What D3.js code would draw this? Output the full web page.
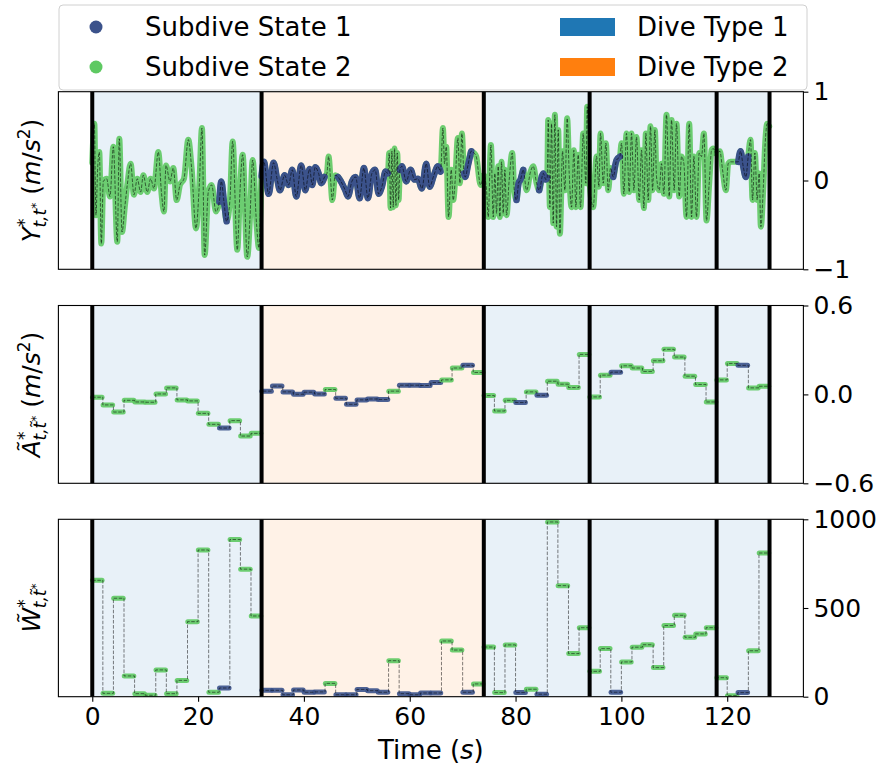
<!DOCTYPE html>
<html>
<head>
<meta charset="utf-8">
<script src="https://cdn.jsdelivr.net/npm/d3@7"></script>
<style>
  body { margin: 0; background: #fff; }
  text { font-family: "DejaVu Sans", sans-serif; }
</style>
</head>
<body>
<div id="chart"></div>
<script>
// dive boundaries (s) and dive type of each dive
var diveBounds = [0, 32, 74, 94, 118, 128];
var diveTypes = [1, 2, 1, 1, 1];

// subdive windows (start time, s) and their hidden state
var subStart = [0, 2, 4, 6, 8, 10, 12, 14, 16, 18, 20, 22, 24, 26, 28, 30,
  32, 34, 36, 38, 40, 42, 44, 46, 48, 50, 52, 54, 56, 58, 60, 62, 64, 66, 68, 70, 72,
  74, 76, 78, 80, 82, 84, 86, 88, 90, 92,
  94, 96, 98, 100, 102, 104, 106, 108, 110, 112, 114, 116,
  118, 120, 122, 124, 126];
var subState = [2, 2, 2, 2, 2, 2, 2, 2, 2, 2, 2, 2, 1, 2, 2, 2,
  1, 1, 1, 1, 1, 1, 2, 1, 1, 1, 1, 1, 2, 1, 1, 1, 1, 2, 2, 1, 2,
  2, 2, 2, 1, 2, 1, 2, 2, 2, 2,
  2, 2, 1, 2, 2, 2, 2, 2, 2, 2, 2, 2,
  2, 2, 1, 2, 2];

// mean acceleration per subdive
var accelMean = [-0.019, -0.071, -0.119, -0.040, -0.051, -0.053, 0.003, 0.044, -0.037, -0.044, -0.128, -0.202, -0.227, -0.177, -0.281, -0.263,
  0.022, 0.056, 0.017, 0.001, 0.015, 0.003, 0.033, -0.026, -0.067, -0.037, -0.031, -0.035, 0.022, 0.062, 0.062, 0.060, 0.080, 0.098, 0.178, 0.196, 0.148,
  -0.008, -0.112, -0.040, -0.055, 0.017, -0.006, 0.089, 0.069, 0.046, 0.270,
  -0.017, 0.130, 0.150, 0.193, 0.178, 0.155, 0.227, 0.304, 0.252, 0.123, 0.067, -0.051,
  0.098, 0.209, 0.196, 0.044, 0.055];

// wiggliness per subdive
var wiggle = [656, 19, 555, 117, 17, 8, 151, 17, 92, 423, 827, 25, 49, 886, 719, 455,
  36, 36, 11, 38, 25, 27, 75, 11, 11, 41, 34, 25, 203, 17, 11, 21, 21, 314, 263, 25, 72,
  280, 23, 292, 23, 42, 14, 985, 626, 243, 389,
  143, 271, 25, 196, 279, 293, 164, 401, 459, 335, 354, 389,
  107, 6, 23, 259, 810];

// acceleration signal (read at its turning points)
var sigTime = [0, 0.39, 0.70, 1.02, 1.33, 1.71, 2.09, 2.72, 3.35, 3.98, 4.73, 5.11, 5.62, 6.18, 6.62, 7.25, 7.88, 8.51, 9.14, 9.65,
  10.40, 11.03, 11.66, 12.48, 13.11, 13.55, 13.93, 14.69, 15.32, 15.95, 16.58, 17.33, 18.15, 18.78, 19.60, 20.23, 20.73, 21.24, 21.93, 22.56,
  23.38, 24.01, 24.39, 24.89, 25.39, 26.02, 26.53, 27.41, 27.91, 28.42, 29.30, 29.80, 30.31, 31.06, 31.50,
  32.0, 32.44, 33.33, 34.27, 34.96, 35.47, 36.35, 37.10, 37.80, 38.55, 39.50, 40.25, 41.07, 41.58, 42.14, 42.77, 43.28, 43.91, 44.35, 44.66,
  45.04, 45.36, 45.92, 46.43, 47.18, 47.81, 48.32, 49.07, 49.77, 50.52, 51.34, 52.10, 52.85, 53.48, 54.11, 54.74, 55.43, 55.87, 56.13, 56.38,
  56.63, 56.88, 57.13, 57.39, 57.64, 57.89, 58.14, 58.52, 59.34, 60.16, 60.91, 61.54, 62.30, 63.12, 63.75, 64.57, 65.32, 65.83, 66.27, 66.58,
  66.90, 67.34, 67.84, 68.22, 68.60, 69.10, 69.48, 69.86, 70.24, 70.49, 71.00, 71.62, 72.13, 72.57, 73.39, 73.90,
  74.0, 74.52, 74.83, 75.34, 75.78, 76.09, 76.41, 76.72, 77.04, 77.35, 77.67, 77.98, 78.30, 78.80, 79.37, 79.75, 80.19, 80.57, 80.94, 81.45,
  82.08, 82.83, 83.34, 83.97, 84.47, 85.23, 85.73, 85.98, 86.17, 86.49, 86.80, 87.12, 87.43, 87.75, 88.06, 88.38, 88.88, 89.32, 89.76, 90.14, 90.58,
  91.02, 91.40, 91.84, 92.28, 92.79, 93.29, 93.54, 93.95,
  94.68, 95.31, 95.75, 96.06, 96.57, 97.07, 97.51, 97.95, 98.46, 99.09, 99.72, 100.03, 100.47, 100.97, 101.48, 101.92, 102.36, 102.86, 103.37, 103.81,
  104.25, 104.63, 105.07, 105.51, 105.89, 106.33, 106.64, 107.15, 107.59, 108.03, 108.53, 109.04, 109.48, 109.98, 110.42, 110.93, 111.37, 111.81, 112.31, 112.82,
  113.26, 113.70, 114.20, 114.71, 115.15, 115.59, 116.09, 116.60, 117.04, 117.35, 117.95,
  118.61, 119.12, 119.75, 120.19, 120.63, 121.45, 122.08, 122.52, 123.02, 123.53, 123.97, 124.41, 124.79, 125.23, 125.67, 126.04, 126.36, 126.80, 127.18, 127.56,
  127.93];
var sigY = [0.20, 0.64, -0.39, 0.14, 0.32, -0.71, -0.01, 0.02, -0.18, 0.38, -0.69, 0.47, -0.58, -0.28, -0.05, 0.19, -0.16, 0.02, -0.13, 0.06,
  -0.13, 0.02, -0.09, 0.32, -0.16, -0.35, 0.17, -0.01, 0.14, -0.22, -0.05, 0.02, 0.46, 0.14, -0.54, -0.05, 0.59, -0.84, -0.13, -0.05,
  -0.35, -0.24, -0.01, -0.24, -0.46, -0.22, 0.44, -0.78, -0.13, 0.29, -0.86, -0.43, 0.23, -0.50, -0.76,
  0.05, 0.21, -0.15, 0.20, 0.01, -0.11, 0.06, -0.05, 0.12, -0.18, 0.17, -0.11, 0.13, -0.05, 0.15, 0.08, -0.03, 0.04, 0.08, 0.27,
  0.01, -0.22, 0.06, 0.04, -0.03, -0.11, -0.18, -0.01, 0.04, -0.20, 0.14, -0.20, 0.08, 0.12, -0.15, -0.07, 0.10, 0.08, 0.31, -0.31,
  0.33, -0.30, 0.36, -0.28, 0.31, -0.22, 0.12, 0.16, -0.01, 0.12, 0.01, 0.02, -0.09, 0.19, -0.07, 0.06, 0.16, 0.10, 0.59, 0.19,
  0.38, -0.41, 0.12, -0.22, 0.01, 0.48, -0.03, 0.53, 0.08, 0.04, 0.17, 0.33, 0.31, 0.27, -0.05, 0.04,
  0.06, -0.11, -0.41, 0.40, -0.41, 0.08, -0.37, 0.16, -0.41, 0.21, -0.37, 0.12, -0.39, 0.01, 0.31, -0.11, -0.22, -0.03, 0.01, 0.12,
  -0.11, 0.10, 0.16, -0.03, -0.11, 0.08, 0.01, 0.03, 0.68, -0.30, 0.64, -0.48, 0.74, -0.52, 0.57, -0.60, 0.33, -0.11, 0.70, 0.08, -0.30,
  0.34, -0.30, 0.29, -0.30, 0.53, -0.03, 0.83, 0.01,
  -0.30, 0.27, -0.07, 0.53, -0.03, 0.42, -0.11, 0.14, 0.04, 0.23, 0.27, 0.42, -0.15, 0.53, -0.13, 0.53, -0.11, 0.49, -0.22, 0.34,
  -0.31, 0.53, -0.22, 0.61, -0.11, 0.57, 0.04, -0.11, 0.19, -0.15, 0.74, -0.18, 0.68, -0.11, 0.64, -0.18, 0.27, 0.19, -0.41, 0.64,
  -0.41, 0.27, -0.41, 0.31, 0.27, 0.53, -0.45, -0.03, 0.34, 0.36, 0.30,
  0.33, 0.12, -0.11, 0.19, 0.21, 0.21, 0.21, 0.33, 0.16, 0.04, 0.27, 0.46, -0.22, 0.31, -0.22, 0.08, -0.52, -0.11, 0.42, 0.64,
  0.61];

// tick labels
var xTicks = [0, 20, 40, 60, 80, 100, 120];
var yTicksY = [-1, 0, 1];
var yTicksA = [-0.6, 0.0, 0.6];
var yTicksW = [0, 500, 1000];

var width = 879, height = 775;
var left = 58.4, right = 803.4;
var stateColor = {1: "#3b528b", 2: "#5ec962"};
var typeFill = {1: "#e8f1f8", 2: "#fff2e7"};
var fs = 25;

var svg = d3.select("#chart")
  .append("svg")
  .attr("width", width)
  .attr("height", height);

var x = d3.scaleLinear().domain([-6.4, 134.4]).range([left, right]);

var panels = [
  {top: 91.7, bottom: 269.3, domain: [-1, 1], ticks: yTicksY, fmt: d3.format("d")},
  {top: 305.5, bottom: 483.3, domain: [-0.6, 0.6], ticks: yTicksA, fmt: d3.format(".1f")},
  {top: 519.3, bottom: 696.7, domain: [0, 1000], ticks: yTicksW, fmt: d3.format("d")}
];

var dives = diveTypes.map(function(t, i) {
  return {start: diveBounds[i], end: diveBounds[i + 1], type: t};
});
var subs = subStart.map(function(s, i) {
  var e = i + 1 < subStart.length ? subStart[i + 1] : diveBounds[diveBounds.length - 1];
  return {start: s, end: e, state: subState[i], a: accelMean[i], w: wiggle[i]};
});
var signal = sigTime.map(function(t, i) { return [t, sigY[i]]; });

// consecutive state-1 windows merged into runs
var blueRuns = [];
subs.forEach(function(d) {
  if (d.state !== 1) return;
  var last = blueRuns[blueRuns.length - 1];
  if (last && last.end === d.start) last.end = d.end;
  else blueRuns.push({start: d.start, end: d.end});
});

var defs = svg.append("defs");

panels.forEach(function(p, pi) {
  var y = d3.scaleLinear().domain(p.domain).range([p.bottom, p.top]);
  p.y = y;

  defs.append("clipPath").attr("id", "clip-" + pi)
    .append("rect")
    .attr("x", left).attr("y", p.top)
    .attr("width", right - left).attr("height", p.bottom - p.top);

  var g = svg.append("g").attr("clip-path", "url(#clip-" + pi + ")");

  // dive type spans
  g.selectAll("rect.span")
    .data(dives)
    .enter()
    .append("rect")
    .attr("class", "span")
    .attr("x", function(d) { return x(d.start); })
    .attr("width", function(d) { return x(d.end) - x(d.start); })
    .attr("y", p.top)
    .attr("height", p.bottom - p.top)
    .attr("fill", function(d) { return typeFill[d.type]; })
    .attr("stroke", "#c8ced4")
    .attr("stroke-width", 0.8);

  if (pi === 0) {
    var line = d3.line()
      .x(function(d) { return x(d[0]); })
      .y(function(d) { return y(d[1]); })
      .curve(d3.curveMonotoneX);

    g.append("path")
      .datum(signal)
      .attr("d", line)
      .attr("fill", "none")
      .attr("stroke", stateColor[2])
      .attr("stroke-opacity", 0.9)
      .attr("stroke-width", 6)
      .attr("stroke-linejoin", "round")
      .attr("stroke-linecap", "round");

    g.selectAll("path.blue")
      .data(blueRuns)
      .enter()
      .append("path")
      .attr("class", "blue")
      .attr("d", function(r) {
        return line(signal.filter(function(d) { return d[0] >= r.start && d[0] <= r.end; }));
      })
      .attr("fill", "none")
      .attr("stroke", stateColor[1])
      .attr("stroke-width", 6.5)
      .attr("stroke-linejoin", "round")
      .attr("stroke-linecap", "round");

    g.append("path")
      .datum(signal)
      .attr("d", line)
      .attr("fill", "none")
      .attr("stroke", "#000")
      .attr("stroke-opacity", 0.55)
      .attr("stroke-width", 1)
      .attr("stroke-dasharray", "3.5,1.6");
  } else {
    var key = pi === 1 ? "a" : "w";
    var steps = subs.map(function(d) { return [d.start, d[key]]; });
    steps.push([subs[subs.length - 1].end, subs[subs.length - 1][key]]);

    g.selectAll("line.seg")
      .data(subs)
      .enter()
      .append("line")
      .attr("class", "seg")
      .attr("x1", function(d) { return x(d.start + 0.05); })
      .attr("x2", function(d) { return x(d.end - 0.15); })
      .attr("y1", function(d) { return y(d[key]); })
      .attr("y2", function(d) { return y(d[key]); })
      .attr("stroke", function(d) { return stateColor[d.state]; })
      .attr("stroke-opacity", 0.9)
      .attr("stroke-width", 5)
      .attr("stroke-linecap", "round");

    g.append("path")
      .datum(steps)
      .attr("d", d3.line()
        .x(function(d) { return x(d[0]); })
        .y(function(d) { return y(d[1]); })
        .curve(d3.curveStepAfter))
      .attr("fill", "none")
      .attr("stroke", "#000")
      .attr("stroke-opacity", 0.5)
      .attr("stroke-width", 1)
      .attr("stroke-dasharray", "3.5,1.6");
  }

  // dive boundaries
  g.selectAll("line.bound")
    .data(diveBounds)
    .enter()
    .append("line")
    .attr("class", "bound")
    .attr("x1", function(d) { return x(d); })
    .attr("x2", function(d) { return x(d); })
    .attr("y1", p.top)
    .attr("y2", p.bottom)
    .attr("stroke", "#000")
    .attr("stroke-width", 4);

  // frame
  svg.append("rect")
    .attr("x", left).attr("y", p.top)
    .attr("width", right - left).attr("height", p.bottom - p.top)
    .attr("fill", "none")
    .attr("stroke", "#000")
    .attr("stroke-width", 1.1);

  // right axis
  var ax = svg.append("g")
    .attr("transform", "translate(" + right + ",0)")
    .call(d3.axisRight(y).tickValues(p.ticks).tickFormat(p.fmt).tickSize(5).tickPadding(5));
  ax.select(".domain").remove();
  ax.selectAll("line").attr("stroke", "#000").attr("stroke-width", 1.1);
  ax.selectAll("text")
    .attr("font-size", fs + "px")
    .attr("fill", "#000")
    .attr("font-family", "DejaVu Sans");
});

// x axis under the last panel
var xa = svg.append("g")
  .attr("transform", "translate(0," + panels[2].bottom + ")")
  .call(d3.axisBottom(x).tickValues(xTicks).tickFormat(d3.format("d")).tickSize(5).tickPadding(6));
xa.select(".domain").remove();
xa.selectAll("line").attr("stroke", "#000").attr("stroke-width", 1.1);
xa.selectAll("text")
  .attr("font-size", fs + "px")
  .attr("fill", "#000")
  .attr("font-family", "DejaVu Sans");

// x label
var xl = svg.append("text")
  .attr("x", (left + right) / 2)
  .attr("y", 759)
  .attr("text-anchor", "middle")
  .attr("font-size", "26px");
xl.append("tspan").text("Time (");
xl.append("tspan").attr("font-style", "italic").text("s");
xl.append("tspan").text(")");

// y labels built from tspans (math style)
function yLabel(cy, parts) {
  var t = svg.append("text")
    .attr("transform", "translate(40," + cy + ") rotate(-90)")
    .attr("text-anchor", "middle")
    .attr("font-size", fs + "px");
  parts.forEach(function(pt) {
    var s = t.append("tspan").text(pt[0]);
    if (pt[1]) s.attr("font-style", "italic");
    if (pt[2]) s.attr("font-size", pt[2] + "px");
    if (pt[3]) s.attr("dy", pt[3]);
    if (pt[4]) s.attr("dx", pt[4]);
  });
}
var units = [[" (", 0], ["m", 1], ["/", 0], ["s", 1], ["2", 0, 17, -10], [")", 0, null, 10]];
yLabel((panels[0].top + panels[0].bottom) / 2,
  [["Y", 1], ["*", 0, 17, -10], ["t,t", 1, 17, 16, -9], ["*", 0, 12, -6]].concat(units));
yLabel((panels[1].top + panels[1].bottom) / 2,
  [["\u00C3", 1], ["*", 0, 17, -10], ["t,t\u0303", 1, 17, 16, -9], ["*", 0, 12, -6]].concat(units));
yLabel((panels[2].top + panels[2].bottom) / 2,
  [["W\u0303", 1], ["*", 0, 17, -10], ["t,t\u0303", 1, 17, 16, -9], ["*", 0, 12, -6]]);

// legend
var lg = svg.append("g");
lg.append("rect")
  .attr("x", 59).attr("y", 5)
  .attr("width", 748).attr("height", 85)
  .attr("rx", 4)
  .attr("fill", "#fff")
  .attr("fill-opacity", 0.8)
  .attr("stroke", "#d0d0d0");

var stateItems = [{label: "Subdive State 1", state: 1}, {label: "Subdive State 2", state: 2}];
var typeItems = [{label: "Dive Type 1", c: "#1f77b4"}, {label: "Dive Type 2", c: "#ff7f0e"}];
var rowY = [27, 67];

stateItems.forEach(function(d, i) {
  lg.append("circle").attr("cx", 96).attr("cy", rowY[i]).attr("r", 6.5).attr("fill", stateColor[d.state]);
  lg.append("text").attr("x", 145).attr("y", rowY[i]).attr("dy", "0.35em")
    .attr("font-size", "26px").text(d.label);
});
typeItems.forEach(function(d, i) {
  lg.append("rect").attr("x", 560).attr("y", rowY[i] - 9).attr("width", 55).attr("height", 18).attr("fill", d.c);
  lg.append("text").attr("x", 637).attr("y", rowY[i]).attr("dy", "0.35em")
    .attr("font-size", "26px").text(d.label);
});
</script>
</body>
</html>
